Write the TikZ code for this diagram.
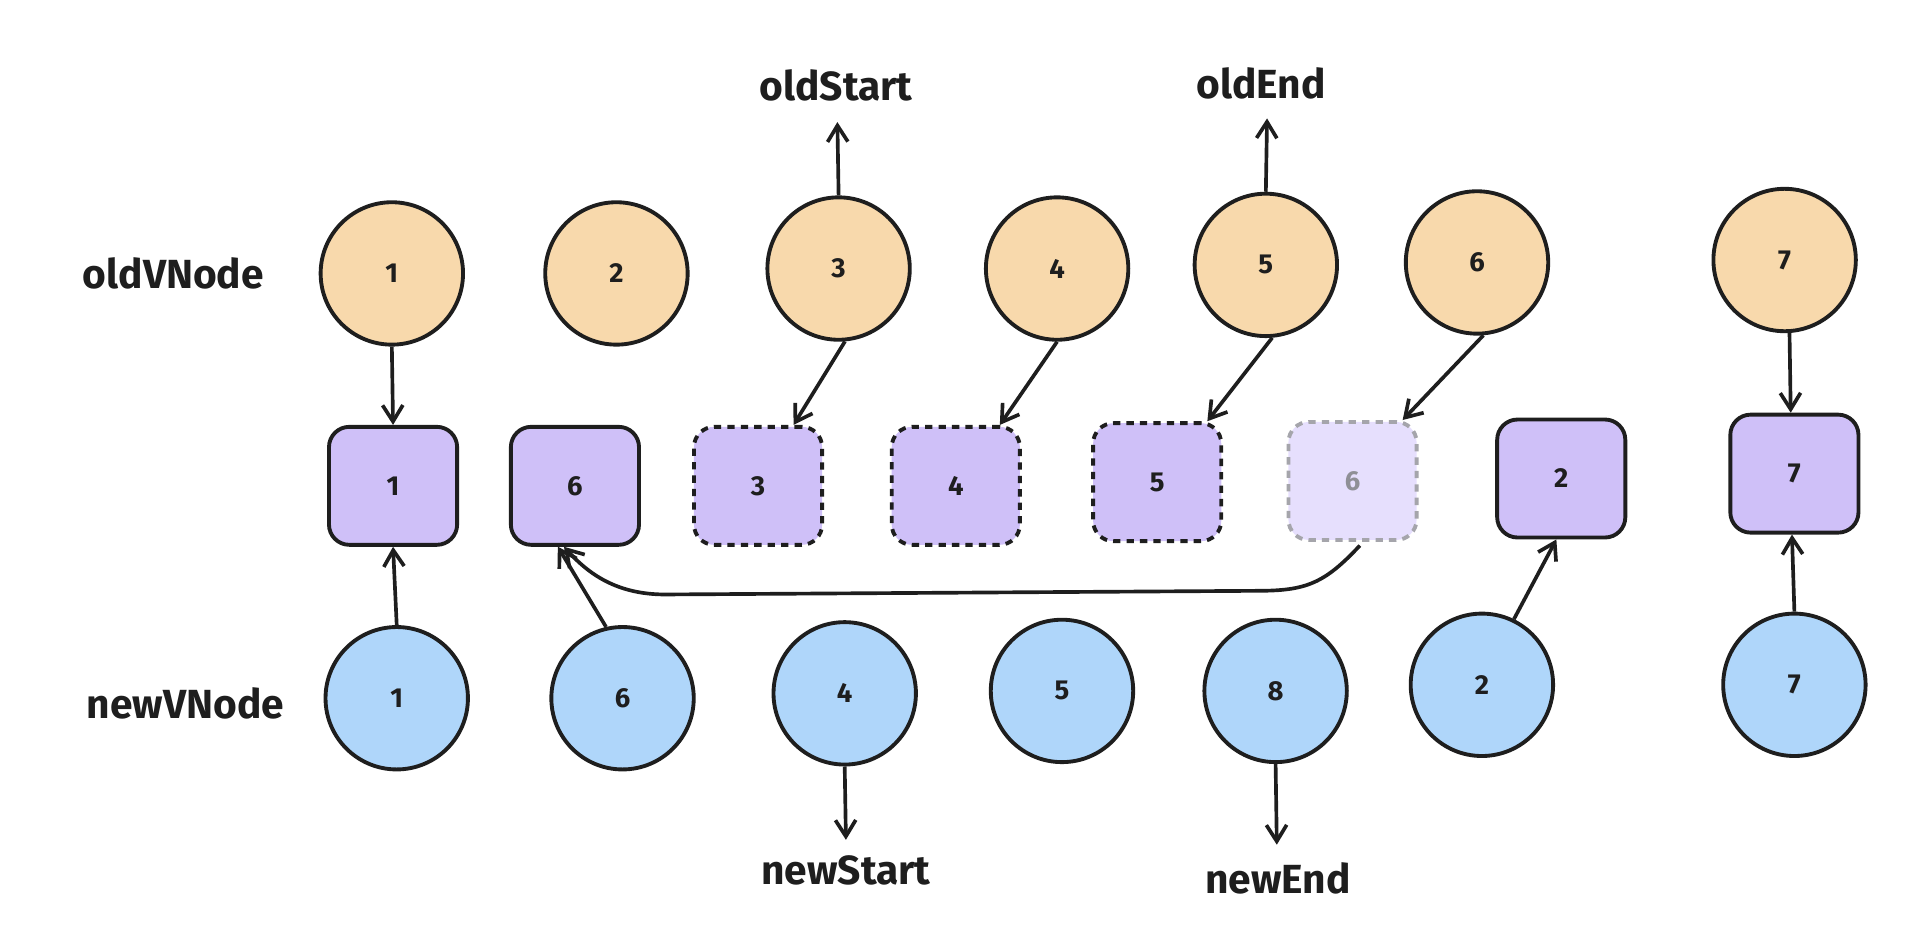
\documentclass[tikz,border=0pt]{standalone}
\usepackage{fontspec}
\setmainfont{Fira Sans}
\usetikzlibrary{arrows.meta,calc}
\definecolor{ink}{HTML}{1E1E1E}
\definecolor{peach}{HTML}{F8D9AC}
\definecolor{violetf}{HTML}{CFC0F8}
\definecolor{violetl}{HTML}{E6DFFD}
\definecolor{bluef}{HTML}{AFD6FA}
\definecolor{fadegray}{HTML}{8F8F96}
\tikzset{
  numfont/.style={font=\bfseries\fontsize{13.5}{13.5}\selectfont},
  oldc/.style={circle,draw=ink,fill=peach,line width=1.9pt,minimum size=70pt,inner sep=0pt,numfont,text=ink},
  newc/.style={circle,draw=ink,fill=bluef,line width=1.9pt,minimum size=70pt,inner sep=0pt,numfont,text=ink},
  vbox/.style={rectangle,rounded corners=10pt,draw=ink,fill=violetf,line width=1.9pt,minimum width=63pt,minimum height=58pt,inner sep=0pt,numfont,text=ink},
  dashbox/.style={vbox,dash pattern=on 3.6pt off 3pt},
  fadebox/.style={vbox,dash pattern=on 3.6pt off 3pt,draw=fadegray!80,fill=violetl,text=fadegray},
  lbl/.style={font=\bfseries\fontsize{20}{20}\selectfont,text=ink,inner sep=0pt},
  conn/.style={draw=ink,line width=1.8pt,-{Straight Barb[length=8pt,width=10pt,line width=1.8pt]}},
}
\begin{document}
\begin{tikzpicture}[x=0.6pt,y=-0.6pt]
\useasboundingbox (0,0) rectangle (1568,775);
% labels
\node[lbl] (lold) at (142,224) {oldVNode};
\node[lbl] (lnew) at (152,576) {newVNode};
\node[lbl] (los) at (685,70) {oldStart};
\node[lbl] (loe) at (1033,68) {oldEnd};
\node[lbl] (lns) at (693,713) {newStart};
\node[lbl] (lne) at (1047,720) {newEnd};
% old row
\node[oldc] (o1) at (321,224) {1};
\node[oldc] (o2) at (505,224) {2};
\node[oldc] (o3) at (687,220) {3};
\node[oldc] (o4) at (866,220) {4};
\node[oldc] (o5) at (1037,217) {5};
\node[oldc] (o6) at (1210,215) {6};
\node[oldc] (o7) at (1462,213) {7};
% middle row
\node[vbox] (r1) at (322,398) {1};
\node[vbox] (r6) at (471,398) {6};
\node[dashbox] (r3) at (621,398) {3};
\node[dashbox] (r4) at (783,398) {4};
\node[dashbox] (r5) at (948,395) {5};
\node[fadebox] (r6f) at (1108,394) {6};
\node[vbox] (r2) at (1279,392) {2};
\node[vbox] (r7) at (1470,388) {7};
% new row
\node[newc] (n1) at (325,572) {1};
\node[newc] (n6) at (510,572) {6};
\node[newc] (n4) at (692,568) {4};
\node[newc] (n5) at (870,566) {5};
\node[newc] (n8) at (1045,566) {8};
\node[newc] (n2) at (1214,561) {2};
\node[newc] (n7) at (1470,561) {7};
% pointer coordinates
\coordinate (pos) at (686,100);
\coordinate (poe) at (1038,97);
\coordinate (pns) at (693,688);
\coordinate (pne) at (1046,692);
% connectors
\draw[conn] (o3.north) -- (pos);
\draw[conn] (o5.north) -- (poe);
\draw[conn] (n4.south) -- (pns);
\draw[conn] (n8.south) -- (pne);
\draw[conn] (o1.south) -- (r1.north);
\draw[conn] (o3.-85) -- ($(r3.north east)+(-25,0)$);
\draw[conn] (o4.south) -- ($(r4.north east)+(-18,0)$);
\draw[conn] (o5.-85) -- ($(r5.north east)+(-13,0)$);
\draw[conn] (o6.-85) -- ($(r6f.north east)+(-13,0)$);
\draw[conn] ($(o7.south)+(4,0)$) -- ($(r7.north)+(-3,0)$);
\draw[conn] (n1.north) -- (r1.south);
\draw[conn] (n6.103) -- ($(r6.south)+(-14,0)$);
\draw[conn] (n2.64) -- ($(r2.south)+(-4,0)$);
\draw[conn] (n7.north) -- ($(r7.south)+(-2,0)$);
\draw[conn] ($(r6f.south)+(6,3)$) .. controls (1085,478) and (1070,484) .. (1030,484)
  -- (545,487) .. controls (505,487) and (482,470) .. ($(r6.south)+(-9,0)$);
\end{tikzpicture}
\end{document}
